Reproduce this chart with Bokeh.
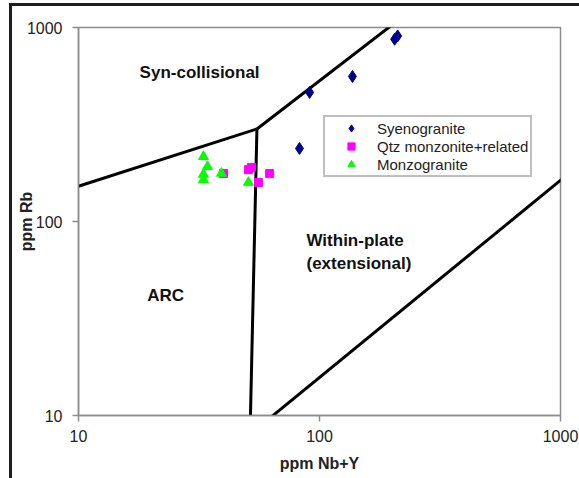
from bokeh.plotting import figure
from bokeh.models import FixedTicker, Label, Legend, LegendItem, NumeralTickFormatter
from bokeh.embed import file_html
from bokeh.resources import INLINE

# Data (ppm Nb+Y, ppm Rb)
syeno_x = [205, 211, 137, 91, 82.6]
syeno_y = [870, 905, 559, 463, 238]
qtz_x = [40.0, 50.7, 52.2, 55.8, 62.1]
qtz_y = [176.6, 185, 190, 159, 176.6]
monzo_x = [33.0, 34.3, 33.0, 33.0, 39.2, 50.7]
monzo_y = [216, 192, 175, 164, 177, 159]

# Discrimination boundaries
arc_syn_x = [2, 55]
arc_syn_y = [80, 300]
wpg_syn_x = [55, 400]
wpg_syn_y = [300, 2000]
arc_wpg_x = [55, 51.5]
arc_wpg_y = [300, 8]
orm_x = [51.5, 2000]
orm_y = [8, 330]

ticks = [10, 100, 1000]

FONT = "Liberation Sans"

p = figure(x_axis_type="log", y_axis_type="log",
           x_range=(10, 1000), y_range=(10, 1000),
           frame_width=482, frame_height=388,
           min_border_left=66, min_border_right=19,
           min_border_top=21, min_border_bottom=63,
           output_backend="svg", toolbar_location=None,
           background_fill_color="white", border_fill_color="white",
           outline_line_color="#8c8c8c", outline_line_width=1.5)
p.styles = {"margin-left": "9px", "margin-top": "3px",
            "border-left": "3px solid #1e1e1e", "border-top": "3px solid #1e1e1e"}

p.grid.visible = False
for ax in (p.xaxis[0], p.yaxis[0]):
    ax.ticker = FixedTicker(ticks=ticks, minor_ticks=[])
    ax.formatter = NumeralTickFormatter(format="0")
    ax.axis_line_color = "#8c8c8c"
    ax.axis_line_width = 1.5
    ax.major_tick_line_color = "#8c8c8c"
    ax.major_tick_line_width = 1.5
    ax.major_tick_out = 6
    ax.major_tick_in = 0
    ax.minor_tick_line_color = None
    ax.major_label_text_font = FONT
    ax.major_label_text_font_size = "16px"
    ax.major_label_text_color = "#222222"
    ax.axis_label_text_font = FONT
    ax.axis_label_text_font_size = "16px"
    ax.axis_label_text_font_style = "bold"
    ax.axis_label_text_color = "#222222"

p.xaxis.axis_label = "ppm Nb+Y"
p.yaxis.axis_label = "ppm Rb"
p.xaxis.major_label_standoff = 8
p.yaxis.major_label_standoff = 10
p.xaxis.axis_label_standoff = 10
p.yaxis.axis_label_standoff = -11
p.yaxis.major_label_orientation = "horizontal"

for lx, ly in ((arc_syn_x, arc_syn_y), (wpg_syn_x, wpg_syn_y),
               (arc_wpg_x, arc_wpg_y), (orm_x, orm_y)):
    p.line(lx, ly, line_color="black", line_width=3)

r1 = p.scatter(syeno_x, syeno_y, marker="diamond", size=12,
               fill_color="#00008b", line_color="#00008b")
r2 = p.scatter(qtz_x, qtz_y, marker="square", size=8,
               fill_color="#ff00ff", line_color="#ff00ff")
r3 = p.scatter(monzo_x, monzo_y, marker="triangle", size=10,
               fill_color="#00ff00", line_color="#00ff00")

legend = Legend(items=[LegendItem(label="Syenogranite", renderers=[r1]),
                       LegendItem(label="Qtz monzonite+related", renderers=[r2]),
                       LegendItem(label="Monzogranite", renderers=[r3])],
                location=(245, 238))
legend.border_line_color = "#808080"
legend.border_line_width = 2
legend.background_fill_color = "white"
legend.background_fill_alpha = 1
legend.padding = 2
legend.spacing = 0
legend.margin = 0
legend.glyph_width = 48
legend.glyph_height = 18
legend.label_height = 18
legend.label_standoff = 2
legend.label_text_font = FONT
legend.label_text_font_size = "15px"
legend.label_text_color = "#222222"
p.add_layout(legend)

labels = [
    ("Syn-collisional", 31.8, 586, "center"),
    ("Within-plate", 88.3, 79.8, "left"),
    ("(extensional)", 88.3, 60.8, "left"),
    ("ARC", 23.0, 41.6, "center"),
]
for t, x, y, al in labels:
    p.add_layout(Label(x=x, y=y, text=t, text_align=al, text_baseline="middle",
                       text_font=FONT, text_font_size="17px",
                       text_font_style="bold", text_color="#111111"))

open("out.html", "w").write(file_html(p, INLINE))
